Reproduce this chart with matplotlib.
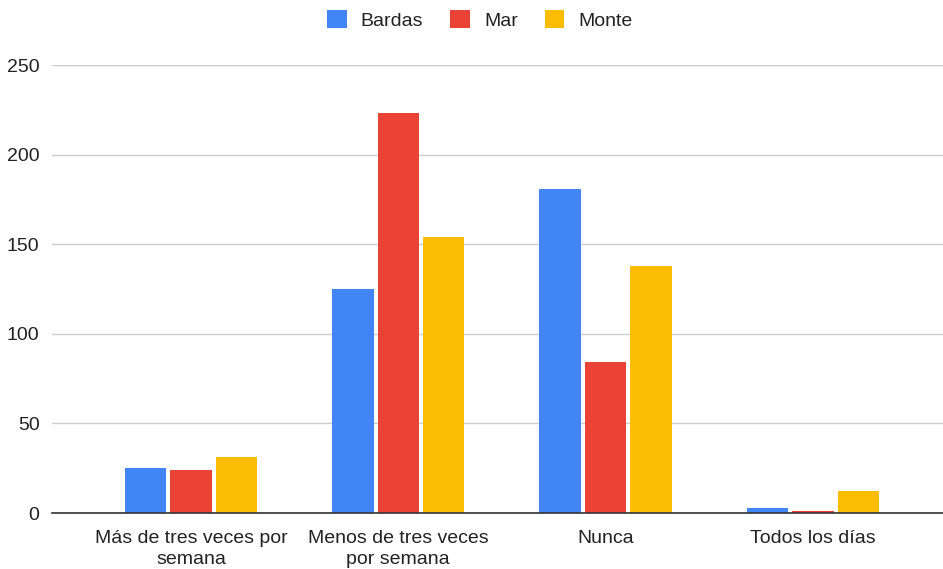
import matplotlib.pyplot as plt
import numpy as np

plt.rcParams['font.family'] = ['Liberation Sans', 'DejaVu Sans']

# data
categories = ['Más de tres veces por\nsemana', 'Menos de tres veces\npor semana',
              'Nunca', 'Todos los días']
series = ['Bardas', 'Mar', 'Monte']
bardas = [25, 125, 181, 3]
mar = [24, 223, 84, 1]
monte = [31, 154, 138, 12]
colors = ['#4285f4', '#ea4335', '#fbbc04']

fig = plt.figure(figsize=(9.43, 5.69), dpi=100)
ax = fig.add_axes([52 / 943, 1 - 513 / 569, 891 / 943, 448 / 569])

x = np.arange(len(categories))
w = 0.2
step = 0.219
for i, (name, vals) in enumerate(zip(series, [bardas, mar, monte])):
    ax.bar(x + (i - 1) * step, vals, w, color=colors[i], label=name, zorder=3)

ax.set_ylim(0, 250)
ax.set_xlim(-0.67, 3.627)
ax.set_yticks(range(0, 251, 50))
ax.set_xticks(x)
ax.set_xticklabels(categories, linespacing=1.35)
ax.tick_params(axis='y', length=0, pad=9, labelsize=14, colors='#222222')
ax.tick_params(axis='x', length=0, pad=12, labelsize=14, colors='#222222')
ax.grid(axis='y', color='#cccccc', linewidth=1, zorder=0)
for s in ['top', 'right', 'left']:
    ax.spines[s].set_visible(False)
ax.spines['bottom'].set_color('#333333')
ax.spines['bottom'].set_linewidth(1.2)
ax.spines['bottom'].set_zorder(4)

fig.legend(loc='center', bbox_to_anchor=(0.509, 1 - 20 / 569), ncol=3,
           frameon=False, fontsize=14, handlelength=1.0, handleheight=1.0,
           handletextpad=0.72, columnspacing=1.4, labelcolor='#222222')

plt.savefig('out.png', dpi=100)
